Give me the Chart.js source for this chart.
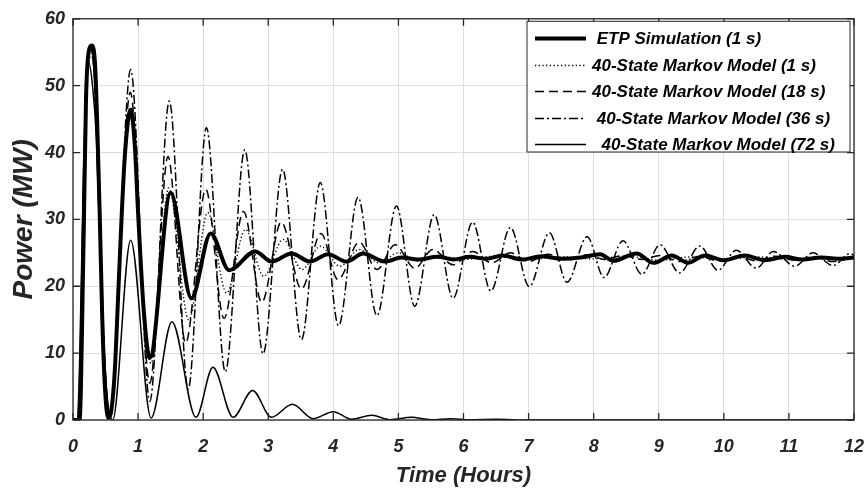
<!DOCTYPE html>
<html>
<head>
<meta charset="utf-8">
<script src="https://cdn.jsdelivr.net/npm/chart.js@4.4.1/dist/chart.umd.min.js"></script>
<style>html,body{margin:0;padding:0;background:#fff}</style>
</head>
<body>
<canvas id="myChart" width="868" height="491"></canvas>
<script>
// values (time in hours, power in MW)
var etpT = [0,0.1,0.12,0.15,0.17,0.2,0.24,0.29,0.34,0.37,0.41,0.45,0.49,0.54,0.59,0.64,0.7,0.75,0.8,0.886,0.95,1.0,1.09,1.18,1.5,1.82,2.115,2.4,2.8,3.05,3.36,3.64,3.92,4.2,4.46,4.79,5.05,5.3,5.6,5.85,6.1,6.35,6.6,6.9,7.2,7.5,7.8,8.1,8.3,8.66,8.92,9.2,9.45,9.71,10.0,10.32,10.63,10.94,11.2,11.5,11.8,12];
var etpV = [0,0,4,20,31,48,55,56,53,45,31,15,5,0.3,1.5,7,20,31,40,46.4,41,31,16,9.3,34,18.2,27.9,22.4,25.2,23.7,24.9,23.7,24.8,23.7,24.9,23.7,24.3,24.0,24.4,24.0,24.4,24.1,24.6,24.0,24.5,24.1,24.3,24.8,23.8,24.9,23.5,24.6,23.5,24.6,23.9,24.6,23.9,24.4,24.0,24.3,24.1,24.3];

var m1T = [0,0.06,0.1,0.15,0.2,0.25,0.3,0.35,0.4,0.45,0.5,0.57,0.64,0.75,0.89,1.0,1.1,1.2,1.47,1.78,2.07,2.36,2.65,2.93,3.23,3.52,3.8,4.1,4.4,4.7,5.0,5.3,5.6,6.0,6.5,7.0,7.5,8.0,8.5,9.0,9.5,10.0,10.5,11.0,11.5,12];
var m1V = [0,0,6,30,48,54,54.5,50,36,20,7,0.3,6,30,46,33,15,8.5,34.7,15,31,19,28.5,21.5,27,22.5,26,23,25.5,23.5,25,23.8,24.6,24.0,24.5,24.0,24.4,24.1,24.5,23.9,24.4,24.0,24.4,24.0,24.3,24.2];

var m18T = [0,0.07,0.12,0.17,0.21,0.27,0.33,0.4,0.48,0.57,0.88,1.18,1.46,1.73,2.04,2.32,2.62,2.9,3.2,3.51,3.81,4.07,4.4,4.67,4.95,5.25,5.53,5.84,6.14,6.43,6.72,7.0,7.3,7.6,7.9,8.17,8.45,8.74,9.02,9.32,9.63,9.91,10.2,10.5,10.78,11.09,11.37,11.68,12];
var m18V = [0,0,7,32,50,55,51,32,10,0.3,49,5.5,39.4,11.5,34.5,15.2,31.2,17.6,29.6,19.6,27.9,21.0,26.6,22.5,26.2,22.7,25.5,23.2,25.2,23.5,25.0,23.7,24.8,23.9,24.7,24.0,24.6,24.0,24.6,23.7,24.5,23.8,24.5,23.8,24.5,23.9,24.4,23.7,24.3];

var m36T = [0,0.07,0.12,0.17,0.21,0.27,0.33,0.4,0.48,0.57,0.886,1.18,1.48,1.77,2.05,2.34,2.64,2.92,3.22,3.51,3.8,4.08,4.38,4.67,4.97,5.25,5.55,5.84,6.14,6.42,6.72,7.01,7.32,7.59,7.9,8.16,8.45,8.74,9.02,9.32,9.63,9.91,10.19,10.5,10.76,11.09,11.37,11.68,11.94,12];
var m36V = [0,0,8,33,50,55.5,51,32,10,0.3,52.4,2.8,47.7,4.6,43.7,7.2,40.4,9.9,37.5,12.0,35.5,14.1,33.3,15.6,32.0,17.0,30.7,18.2,29.6,19.3,28.8,19.95,28.0,20.6,27.4,21.3,26.8,21.8,26.2,22.0,26.0,22.4,25.4,22.7,25.2,23.0,25.0,23.1,24.9,24.6];

var m72T = [0,0.06,0.1,0.15,0.19,0.24,0.3,0.36,0.41,0.47,0.53,0.61,0.886,1.2,1.52,1.89,2.15,2.46,2.76,3.05,3.37,3.69,4.0,4.28,4.59,4.87,5.2,5.5,5.8,6.1,6.5,7,12];
var m72V = [0,0,8,32,48,53.5,50,42,27.4,12,3,0,26.9,0.3,14.7,0.4,7.9,0.4,4.4,0.4,2.35,0.2,1.25,0.1,0.7,0.05,0.4,0.05,0.2,0.05,0.1,0,0];

var seriesNames = [' ETP Simulation (1 s)', '40-State Markov Model (1 s)', '40-State Markov Model (18 s)', ' 40-State Markov Model (36 s)', '  40-State Markov Model (72 s)'];
var xTicks = [0,1,2,3,4,5,6,7,8,9,10,11,12];
var yTicks = [0,10,20,30,40,50,60];

function pts(ts, vs) {
  return ts.map(function (t, i) { return {x: t, y: vs[i]}; });
}

var ETP = {label: seriesNames[0], data: pts(etpT, etpV), borderColor: '#000', borderWidth: 4, borderDash: []};
var M1 = {label: seriesNames[1], data: pts(m1T, m1V), borderColor: '#000', borderWidth: 1.4, borderDash: [1.3, 2.4]};
var M18 = {label: seriesNames[2], data: pts(m18T, m18V), borderColor: '#000', borderWidth: 1.5, borderDash: [9, 5]};
var M36 = {label: seriesNames[3], data: pts(m36T, m36V), borderColor: '#000', borderWidth: 1.5, borderDash: [9, 3, 2, 3]};
var M72 = {label: seriesNames[4], data: pts(m72T, m72V), borderColor: '#000', borderWidth: 1.5, borderDash: []};

var ink = '#262626';
var fam = '"Liberation Sans", Arial, sans-serif';

// box, inward ticks and the legend, drawn the way the matlab figure has them
var framePlugin = {
  id: 'frame',
  afterDraw: function (chart) {
    var ctx = chart.ctx, a = chart.chartArea, x = chart.scales.x, y = chart.scales.y;
    ctx.save();
    ctx.strokeStyle = ink;
    ctx.lineWidth = 1.3;
    ctx.strokeRect(a.left, a.top, a.right - a.left, a.bottom - a.top);
    ctx.beginPath();
    xTicks.forEach(function (v) {
      var px = x.getPixelForValue(v);
      ctx.moveTo(px, a.bottom); ctx.lineTo(px, a.bottom - 7);
      ctx.moveTo(px, a.top); ctx.lineTo(px, a.top + 7);
    });
    yTicks.forEach(function (v) {
      var py = y.getPixelForValue(v);
      ctx.moveTo(a.left, py); ctx.lineTo(a.left + 7, py);
      ctx.moveTo(a.right, py); ctx.lineTo(a.right - 7, py);
    });
    ctx.stroke();

    // legend
    var L = 527, T = a.top + 2.5, R = a.right - 4, B = 152;
    ctx.fillStyle = '#fff';
    ctx.fillRect(L, T, R - L, B - T);
    ctx.lineWidth = 1;
    ctx.strokeStyle = ink;
    ctx.strokeRect(L, T, R - L, B - T);
    ctx.font = 'italic bold 17px ' + fam;
    ctx.textBaseline = 'middle';
    ctx.textAlign = 'left';
    chart.data.datasets.forEach(function (ds, i) {
      var ry = Math.round(T + 16.7 + i * 26.5) + 0.5;
      ctx.beginPath();
      ctx.strokeStyle = '#000';
      ctx.lineWidth = ds.borderWidth;
      ctx.setLineDash(ds.borderDash);
      ctx.moveTo(L + 8, ry); ctx.lineTo(L + 59, ry);
      ctx.stroke();
      ctx.setLineDash([]);
      ctx.fillStyle = '#000';
      ctx.fillText(ds.label, L + 65, ry + 1);
    });
    ctx.restore();
  }
};

var chart = new Chart(document.getElementById('myChart').getContext('2d'), {
  type: 'line',
  data: {datasets: [ETP, M1, M18, M36, M72]},
  options: {
    responsive: false,
    animation: false,
    layout: {padding: {top: 11, right: 14, left: 0, bottom: 0}},
    elements: {point: {radius: 0}, line: {cubicInterpolationMode: 'monotone', borderCapStyle: 'butt'}},
    plugins: {legend: {display: false}, tooltip: {enabled: false}},
    scales: {
      x: {
        type: 'linear', min: 0, max: 12,
        ticks: {stepSize: 1, color: ink, padding: 16, maxRotation: 0, font: {family: fam, size: 18, weight: 'bold', style: 'italic'}},
        grid: {color: '#dedede', drawTicks: false},
        border: {display: false},
        title: {display: true, text: 'Time (Hours)', color: ink, padding: {top: 0, bottom: 2}, font: {family: fam, size: 22, weight: 'bold', style: 'italic'}},
        afterFit: function (s) { s.height = 71; s.paddingLeft = 0; s.paddingRight = 0; }
      },
      y: {
        min: 0, max: 60,
        ticks: {stepSize: 10, color: ink, padding: 8, font: {family: fam, size: 18, weight: 'bold', style: 'italic'}},
        grid: {color: '#dedede', drawTicks: false},
        border: {display: false},
        title: {display: true, text: 'Power (MW)', color: ink, padding: {top: 7, bottom: 0}, font: {family: fam, size: 28, weight: 'bold', style: 'italic'}},
        afterFit: function (s) { s.width = 73; }
      }
    }
  },
  plugins: [framePlugin]
});
</script>
</body>
</html>
